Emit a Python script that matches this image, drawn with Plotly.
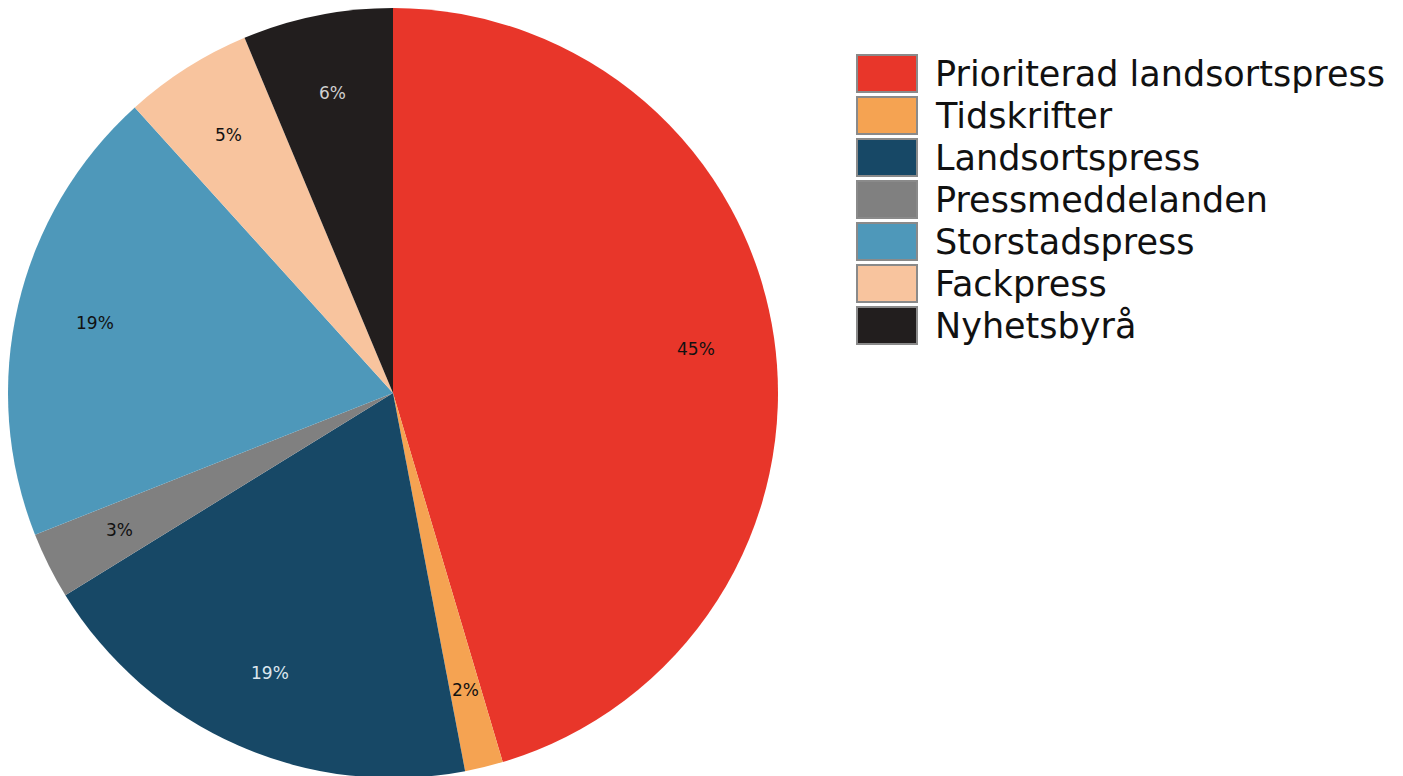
import math
import plotly.graph_objects as go

categories = ["Prioriterad landsortspress", "Tidskrifter", "Landsortspress",
              "Pressmeddelanden", "Storstadspress", "Fackpress", "Nyhetsbyrå"]
values = [45.4, 1.6, 19.2, 2.8, 19.3, 5.4, 6.3]
colors = ["#E8362A", "#F5A352", "#174866", "#808080", "#4E98BA", "#F8C49E", "#221E1E"]
text_colors = ["#111111", "#111111", "#DCE6EE", "#111111", "#111111", "#111111", "#D0D0D0"]

W, H = 1403, 776
OFF = 8  # page body margin offset

# pie geometry (figure pixel coords)
pie_left, pie_top, pie_size = 0, 0, 770
R = pie_size / 2
cx = (pie_left + R) / W
cy = 1 - (pie_top + R) / H

fig = go.Figure()
fig.add_trace(go.Pie(
    labels=categories,
    values=values,
    sort=False,
    direction="clockwise",
    rotation=0,
    marker=dict(colors=colors, line=dict(width=0)),
    textinfo="none",
    domain=dict(x=[pie_left / W, (pie_left + pie_size) / W],
                y=[1 - (pie_top + pie_size) / H, 1 - pie_top / H]),
    showlegend=False,
    hoverinfo="label+percent",
))

# percentage labels placed at a fixed fraction of the radius, at each slice's mid-angle
total = sum(values)
cum = 0.0
for v, tc in zip(values, text_colors):
    mid = (cum + v / 2) / total * 2 * math.pi
    cum += v
    rr = 0.795 * R
    fig.add_annotation(xref="paper", yref="paper",
                       x=cx + rr * math.sin(mid) / W,
                       y=cy + rr * math.cos(mid) / H,
                       xanchor="center", yanchor="middle",
                       text=f"{round(v / total * 100)}%", showarrow=False,
                       font=dict(family="DejaVu Sans", size=17, color=tc))

# custom legend built from the category / color lists
box_x0, box_x1 = 857 - OFF, 917 - OFF
top0, pitch, bh = 55 - OFF, 42, 37
for i, (cat, col) in enumerate(zip(categories, colors)):
    y0 = top0 + i * pitch
    fig.add_shape(type="rect", xref="paper", yref="paper",
                  x0=box_x0 / W, x1=box_x1 / W,
                  y0=1 - (y0 + bh) / H, y1=1 - y0 / H,
                  fillcolor=col, line=dict(color="#8A8A8A", width=2))
    fig.add_annotation(xref="paper", yref="paper",
                       x=(933 - OFF) / W, y=1 - (y0 + bh / 2 + 0.5) / H,
                       xanchor="left", yanchor="middle",
                       text=cat, showarrow=False,
                       font=dict(family="DejaVu Sans", size=35, color="#111111"))

fig.update_layout(
    width=W, height=H,
    margin=dict(l=0, r=0, t=0, b=0),
    paper_bgcolor="white",
    plot_bgcolor="white",
    showlegend=False,
)

fig.write_html("out.html")
